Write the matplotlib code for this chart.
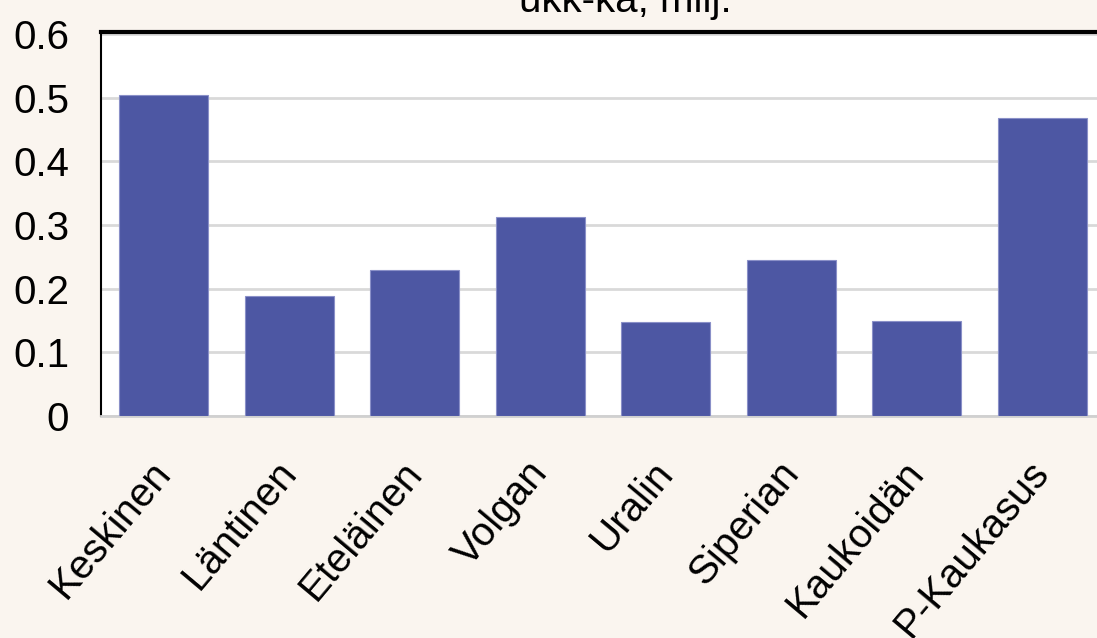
import matplotlib
matplotlib.use("Agg")
import matplotlib.pyplot as plt
import numpy as np

regions = ["Keskinen", "Läntinen", "Eteläinen", "Volgan", "Uralin",
           "Siperian", "Kaukoidän", "P-Kaukasus"]
values = [0.504, 0.188, 0.229, 0.312, 0.148, 0.245, 0.149, 0.468]
yticks = [0, 0.1, 0.2, 0.3, 0.4, 0.5, 0.6]
ytick_labels = ["0", "0.1", "0.2", "0.3", "0.4", "0.5", "0.6"]
title_tail = "ukk-ka, milj."

plt.rcParams["font.family"] = ["Liberation Sans", "DejaVu Sans"]

bg = "#faf5ef"
bar_color = "#4d57a3"

fig = plt.figure(figsize=(10.97, 6.38), dpi=100, facecolor=bg)
# plot area runs past the right edge of the picture, like the cropped original
ax = fig.add_axes([101 / 1097, 1 - 416 / 638, 1004 / 1097, 384 / 638])
ax.set_facecolor("white")

x = np.arange(len(regions))
ax.bar(x, values, width=0.71, color=bar_color, edgecolor="#8a90c8",
       linewidth=0.8, zorder=3)

ax.set_xlim(-0.5, len(regions) - 0.5)
ax.set_ylim(0, 0.603)
ax.set_yticks(yticks)
ax.set_yticklabels(ytick_labels, fontsize=29)
ax.tick_params(axis="y", length=0, pad=23)
ax.tick_params(axis="x", length=0, pad=36)
ax.set_xticks(x)
ax.set_xticklabels(regions, fontsize=29, rotation=50,
                   ha="right", va="center", rotation_mode="anchor")

ax.grid(axis="y", color="#d9d9d9", linewidth=2, zorder=0)
ax.set_axisbelow(True)

ax.spines["right"].set_visible(False)
ax.spines["top"].set_color("black")
ax.spines["top"].set_linewidth(3)
ax.spines["left"].set_color("black")
ax.spines["left"].set_linewidth(1.5)
ax.spines["bottom"].set_color("#d0d0d0")
ax.spines["bottom"].set_linewidth(2)

fig.text(625 / 1097, 1 - 12 / 638, title_tail, fontsize=29, ha="center",
         va="baseline")

fig.savefig("out.png", dpi=100, facecolor=bg)
